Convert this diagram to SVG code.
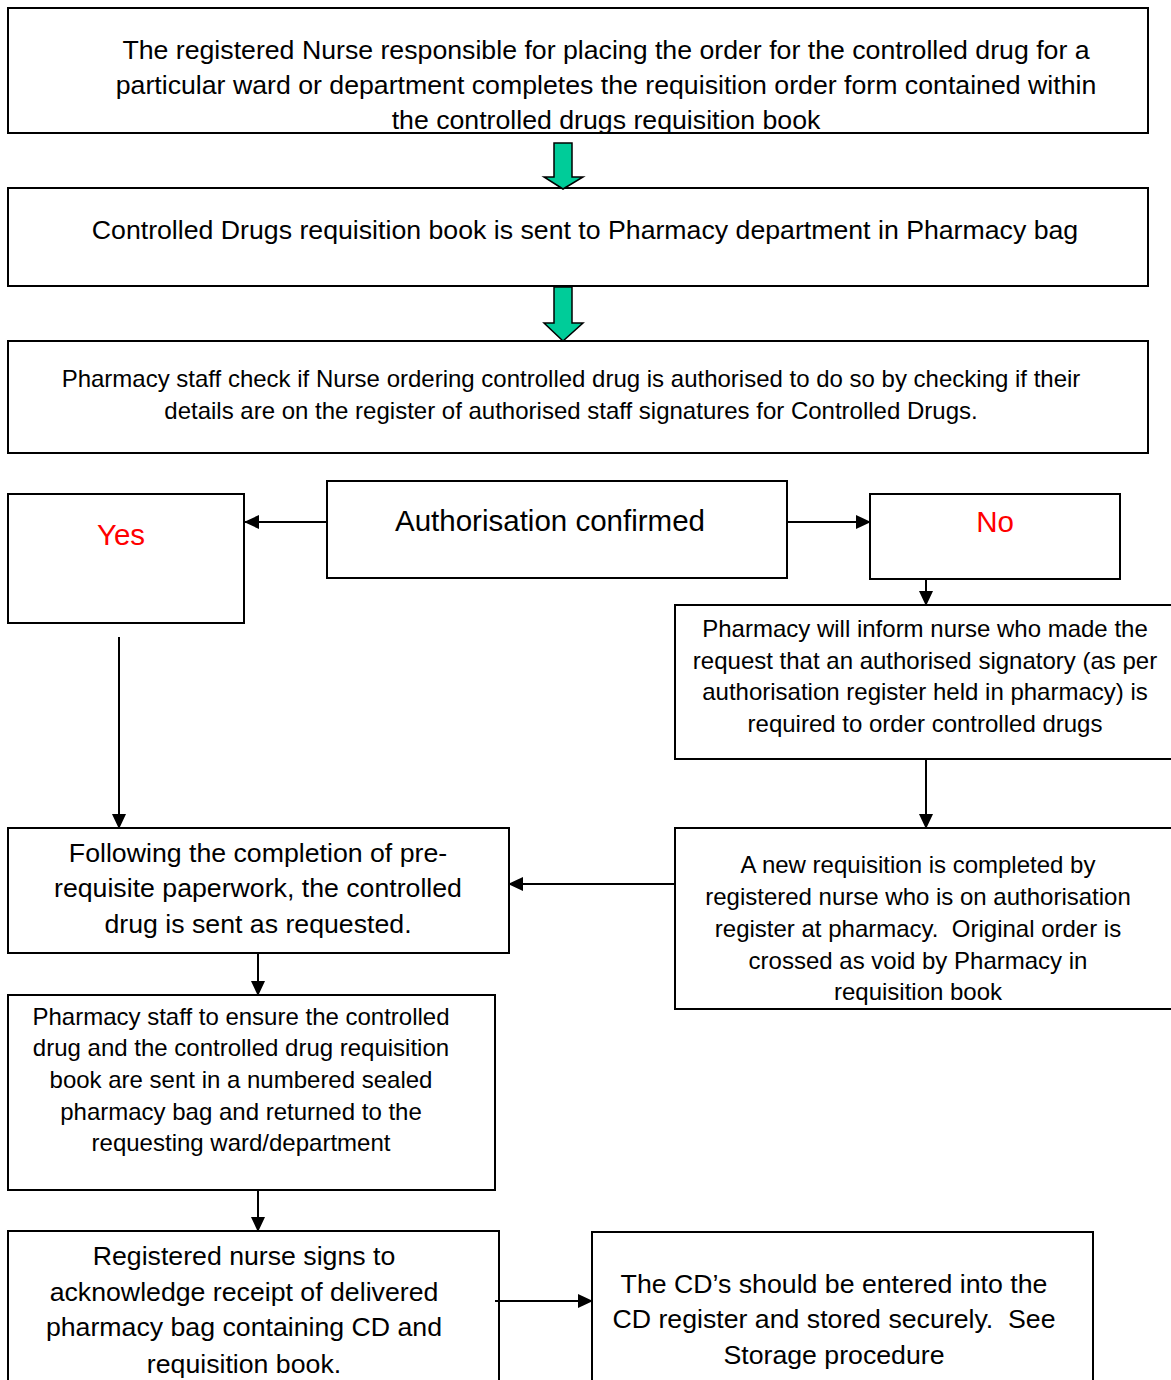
<svg xmlns="http://www.w3.org/2000/svg" width="1171" height="1380" viewBox="0 0 1171 1380">
  <style>
    .box { fill: #fff; stroke: #000; stroke-width: 2; }
    .t { font-family: "Liberation Sans", Arial, sans-serif; fill: #000; text-anchor: middle; white-space: pre; }
    .l { font-size: 26.7px; }
    .m { font-size: 24px; }
    .h { font-size: 29.5px; }
    .red { fill: #ff0000; }
    .ln { stroke: #000; stroke-width: 2; fill: none; }
    .big { stroke: #000; stroke-width: 1.5; fill: #00cc99; }
  </style>
  <defs>
    <marker id="ah" markerWidth="15" markerHeight="14" refX="14" refY="7" orient="auto" markerUnits="userSpaceOnUse">
      <path d="M0,0 L15,7 L0,14 z" fill="#000"/>
    </marker>
  </defs>
  <rect width="1171" height="1380" fill="#fff"/>

  <g id="n-order">
    <rect class="box" x="8" y="8" width="1140" height="125"/>
    <text class="t l" x="606" y="59">The registered Nurse responsible for placing the order for the controlled drug for a</text>
    <text class="t l" x="606" y="94">particular ward or department completes the requisition order form contained within</text>
    <text class="t l" x="606" y="129">the controlled drugs requisition book</text>
  </g>

  <g id="n-sent">
    <rect class="box" x="8" y="188" width="1140" height="98"/>
    <text class="t l" x="585" y="239">Controlled Drugs requisition book is sent to Pharmacy department in Pharmacy bag</text>
  </g>

  <g id="n-check">
    <rect class="box" x="8" y="341" width="1140" height="112"/>
    <text class="t m" x="571" y="387">Pharmacy staff check if Nurse ordering controlled drug is authorised to do so by checking if their</text>
    <text class="t m" x="571" y="419">details are on the register of authorised staff signatures for Controlled Drugs.</text>
  </g>

  <g id="n-auth">
    <rect class="box" x="327" y="481" width="460" height="97"/>
    <text class="t h" x="550" y="531">Authorisation confirmed</text>
  </g>

  <g id="n-yes">
    <rect class="box" x="8" y="494" width="236" height="129"/>
    <text class="t h red" x="121" y="545">Yes</text>
  </g>

  <g id="n-no">
    <rect class="box" x="870" y="494" width="250" height="85"/>
    <text class="t h red" x="995" y="532">No</text>
  </g>

  <g id="n-inform">
    <rect class="box" x="675" y="605" width="520" height="154"/>
    <text class="t m" x="925" y="637">Pharmacy will inform nurse who made the</text>
    <text class="t m" x="925" y="669">request that an authorised signatory (as per</text>
    <text class="t m" x="925" y="700">authorisation register held in pharmacy) is</text>
    <text class="t m" x="925" y="732">required to order controlled drugs</text>
  </g>

  <g id="n-new">
    <rect class="box" x="675" y="828" width="520" height="181"/>
    <text class="t m" x="918" y="873">A new requisition is completed by</text>
    <text class="t m" x="918" y="905">registered nurse who is on authorisation</text>
    <text class="t m" x="918" y="937">register at pharmacy.  Original order is</text>
    <text class="t m" x="918" y="969">crossed as void by Pharmacy in</text>
    <text class="t m" x="918" y="1000">requisition book</text>
  </g>

  <g id="n-following">
    <rect class="box" x="8" y="828" width="501" height="125"/>
    <text class="t l" x="258" y="862">Following the completion of pre-</text>
    <text class="t l" x="258" y="897">requisite paperwork, the controlled</text>
    <text class="t l" x="258" y="933">drug is sent as requested.</text>
  </g>

  <g id="n-ensure">
    <rect class="box" x="8" y="995" width="487" height="195"/>
    <text class="t m" x="241" y="1025">Pharmacy staff to ensure the controlled</text>
    <text class="t m" x="241" y="1056">drug and the controlled drug requisition</text>
    <text class="t m" x="241" y="1088">book are sent in a numbered sealed</text>
    <text class="t m" x="241" y="1120">pharmacy bag and returned to the</text>
    <text class="t m" x="241" y="1151">requesting ward/department</text>
  </g>

  <g id="n-signs">
    <rect class="box" x="8" y="1231" width="491" height="170"/>
    <text class="t l" x="244" y="1265">Registered nurse signs to</text>
    <text class="t l" x="244" y="1301">acknowledge receipt of delivered</text>
    <text class="t l" x="244" y="1336">pharmacy bag containing CD and</text>
    <text class="t l" x="244" y="1373">requisition book.</text>
  </g>

  <g id="n-register">
    <rect class="box" x="592" y="1232" width="501" height="170"/>
    <text class="t l" x="834" y="1293">The CD’s should be entered into the</text>
    <text class="t l" x="834" y="1328">CD register and stored securely.  See</text>
    <text class="t l" x="834" y="1364">Storage procedure</text>
  </g>

  <g id="connectors">
    <!-- block arrows between the top steps -->
    <path class="big" d="M554,143 L572,143 L572,177 L583,177 L563,189 L544,177 L554,177 Z"/>
    <path class="big" d="M554,287 L572,287 L572,323 L583,323 L563,341 L544,323 L554,323 Z"/>
    <!-- decision branches -->
    <line class="ln" x1="327" y1="522" x2="245" y2="522" marker-end="url(#ah)"/>
    <line class="ln" x1="787" y1="522" x2="870" y2="522" marker-end="url(#ah)"/>
    <line class="ln" x1="926" y1="579" x2="926" y2="605" marker-end="url(#ah)"/>
    <line class="ln" x1="926" y1="759" x2="926" y2="828" marker-end="url(#ah)"/>
    <line class="ln" x1="675" y1="884" x2="509" y2="884" marker-end="url(#ah)"/>
    <line class="ln" x1="119" y1="637" x2="119" y2="828" marker-end="url(#ah)"/>
    <!-- main sequence -->
    <line class="ln" x1="258" y1="953" x2="258" y2="995" marker-end="url(#ah)"/>
    <line class="ln" x1="258" y1="1190" x2="258" y2="1231" marker-end="url(#ah)"/>
    <line class="ln" x1="495" y1="1301" x2="592" y2="1301" marker-end="url(#ah)"/>
  </g>
</svg>
